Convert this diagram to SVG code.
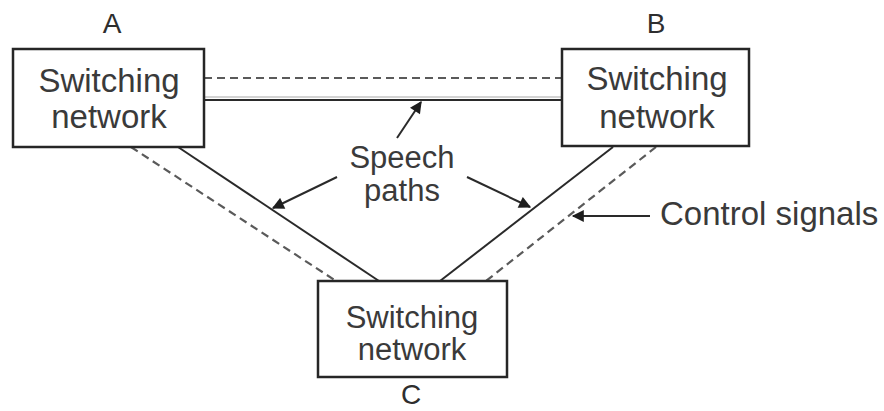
<svg xmlns="http://www.w3.org/2000/svg" width="884" height="411" viewBox="0 0 884 411">
  <style>
    .box { fill: #ffffff; stroke: #262626; stroke-width: 2.5; }
    .txt { font-family: "Liberation Sans", Arial, sans-serif; font-size: 33px; fill: #3a3a3a; text-anchor: middle; }
    .tight { font-size: 31px; }
    .lbl { font-family: "Liberation Sans", Arial, sans-serif; font-size: 28px; fill: #2e2e2e; text-anchor: middle; }
    .speech { stroke: #2a2a2a; stroke-width: 2; fill: none; }
    .ctrl { stroke: #5a5a5a; stroke-width: 2.2; fill: none; stroke-dasharray: 8 5; }
    .ptr { stroke: #2a2a2a; stroke-width: 2; fill: none; marker-end: url(#head); }
  </style>
  <defs>
    <marker id="head" viewBox="0 0 10 10" refX="9" refY="5" markerWidth="7" markerHeight="6" orient="auto" markerUnits="strokeWidth">
      <path d="M0,0 L10,5 L0,10 Z" fill="#1e1e1e"/>
    </marker>
  </defs>

  <rect width="884" height="411" fill="#ffffff"/>

  <!-- links between the switching networks -->
  <g id="connectors">
    <!-- A to B -->
    <line class="ctrl" x1="204" y1="78" x2="562" y2="78"/>
    <line x1="204" y1="97" x2="562" y2="97" stroke="#a8a8a8" stroke-width="1.2"/>
    <line class="speech" x1="204" y1="100" x2="562" y2="100"/>
    <!-- A to C -->
    <line class="ctrl" x1="131" y1="147" x2="336" y2="281"/>
    <line class="speech" x1="178" y1="147" x2="379" y2="281"/>
    <!-- B to C -->
    <line class="ctrl" x1="656" y1="147" x2="486" y2="281"/>
    <line class="speech" x1="613" y1="147" x2="440" y2="281"/>
    <!-- annotation pointers -->
    <line class="ptr" x1="397" y1="138" x2="421" y2="102"/>
    <line class="ptr" x1="337" y1="177" x2="273" y2="208"/>
    <line class="ptr" x1="467" y1="177" x2="530" y2="207"/>
    <line class="ptr" x1="650" y1="216" x2="573" y2="216"/>
  </g>

  <g id="nodeA">
    <rect class="box" x="13" y="49" width="191" height="98"/>
    <text class="txt" x="109" y="92">Switching</text>
    <text class="txt" x="109" y="128">network</text>
    <text class="lbl" x="112" y="33">A</text>
  </g>

  <g id="nodeB">
    <rect class="box" x="562" y="49" width="187" height="97"/>
    <text class="txt" x="657" y="90">Switching</text>
    <text class="txt" x="657" y="128">network</text>
    <text class="lbl" x="656" y="33">B</text>
  </g>

  <g id="nodeC">
    <rect class="box" x="318" y="281" width="189" height="96"/>
    <text class="txt tight" x="412" y="328">Switching</text>
    <text class="txt tight" x="412" y="360">network</text>
    <text class="lbl" x="411" y="404">C</text>
  </g>

  <g id="labels">
    <text class="txt tight" x="402" y="168">Speech</text>
    <text class="txt tight" x="402" y="201">paths</text>
    <text class="txt" x="660" y="225" style="text-anchor:start">Control signals</text>
  </g>
</svg>
